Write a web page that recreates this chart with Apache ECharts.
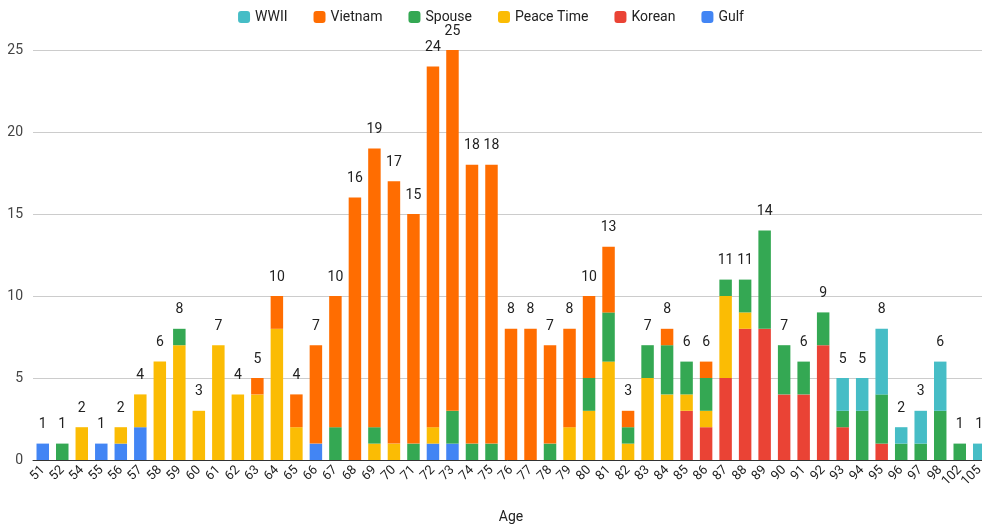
<!DOCTYPE html>
<html>
<head>
<meta charset="utf-8">
<script src="https://cdn.jsdelivr.net/npm/echarts@6/dist/echarts.min.js"></script>
<style>
  html, body { margin: 0; padding: 0; background: #fff; }
  #chart { width: 982px; height: 525px; }
</style>
</head>
<body>
<div id="chart"></div>
<script>
// ages on the x axis
var ages = ['51','52','54','55','56','57','58','59','60','61','62','63','64','65','66','67','68','69','70','71','72','73','74','75','76','77','78','79','80','81','82','83','84','85','86','87','88','89','90','91','92','93','94','95','96','97','98','102','105'];

// counts per group, one value per age
var gulf     = [1,0,0,1,1,2,0,0,0,0,0,0,0,0,1,0,0,0,0,0,1,1,0,0,0,0,0,0,0,0,0,0,0,0,0,0,0,0,0,0,0,0,0,0,0,0,0,0,0];
var korean   = [0,0,0,0,0,0,0,0,0,0,0,0,0,0,0,0,0,0,0,0,0,0,0,0,0,0,0,0,0,0,0,0,0,3,2,5,8,8,4,4,7,2,0,1,0,0,0,0,0];
var peace    = [0,0,2,0,1,2,6,7,3,7,4,4,8,2,0,0,0,1,1,0,1,0,0,0,0,0,0,2,3,6,1,5,4,1,1,5,1,0,0,0,0,0,0,0,0,0,0,0,0];
var spouse   = [0,1,0,0,0,0,0,1,0,0,0,0,0,0,0,2,0,1,0,1,0,2,1,1,0,0,1,0,2,3,1,2,3,2,2,1,2,6,3,2,2,1,3,3,1,1,3,1,0];
var vietnam  = [0,0,0,0,0,0,0,0,0,0,0,1,2,2,6,8,16,17,16,14,22,22,17,17,8,8,6,6,5,4,1,0,1,0,1,0,0,0,0,0,0,0,0,0,0,0,0,0,0];
var wwii     = [0,0,0,0,0,0,0,0,0,0,0,0,0,0,0,0,0,0,0,0,0,0,0,0,0,0,0,0,0,0,0,0,0,0,0,0,0,0,0,0,0,2,2,4,1,2,3,0,1];

var yTicks = [0, 5, 10, 15, 20, 25];

// totals for the labels on top of each bar
var totals = ages.map(function (a, i) {
  return gulf[i] + korean[i] + peace[i] + spouse[i] + vietnam[i] + wwii[i];
});

function seriesOf(name, data, color) {
  return {
    name: name,
    type: 'bar',
    stack: 'all',
    data: data.map(function (v) { return v === 0 ? null : v; }),
    barCategoryGap: '36%',
    itemStyle: { color: color },
    emphasis: { disabled: true }
  };
}

var myChart = echarts.init(document.getElementById('chart'));
var option = {
  animation: false,
  textStyle: { fontFamily: 'Roboto, Arial, sans-serif' },
  legend: {
    top: 5,
    left: 'center',
    data: ['WWII', 'Vietnam', 'Spouse', 'Peace Time', 'Korean', 'Gulf'],
    itemWidth: 12,
    itemHeight: 12,
    itemGap: 26,
    icon: 'roundRect',
    textStyle: { color: '#222', fontSize: 14 }
  },
  grid: { left: 33, top: 50, width: 956, bottom: 65, outerBoundsMode: 'none' },
  xAxis: {
    type: 'category',
    data: ages,
    name: 'Age',
    nameLocation: 'middle',
    nameGap: 50,
    nameTextStyle: { color: '#222', fontSize: 14 },
    axisTick: { show: false },
    axisLine: { lineStyle: { color: '#333' } },
    axisLabel: { rotate: 45, color: '#222', fontSize: 13, interval: 0, margin: 8 }
  },
  yAxis: {
    type: 'value',
    min: yTicks[0],
    max: yTicks[yTicks.length - 1],
    interval: 5,
    axisLabel: { color: '#444', fontSize: 14, margin: 10 },
    splitLine: { lineStyle: { color: '#ccc' } },
    axisLine: { show: false },
    axisTick: { show: false }
  },
  series: [
    seriesOf('Gulf', gulf, '#4285F4'),
    seriesOf('Korean', korean, '#EA4335'),
    seriesOf('Peace Time', peace, '#FBBC04'),
    seriesOf('Spouse', spouse, '#34A853'),
    seriesOf('Vietnam', vietnam, '#FF6D01'),
    seriesOf('WWII', wwii, '#46BDC6'),
    {
      name: 'total',
      type: 'bar',
      stack: 'all',
      data: totals.map(function () { return 0; }),
      itemStyle: { color: 'transparent' },
      label: {
        show: true,
        position: 'top',
        distance: 12,
        color: '#222',
        fontSize: 14,
        formatter: function (p) { return totals[p.dataIndex]; }
      },
      emphasis: { disabled: true }
    }
  ]
};
myChart.setOption(option);
</script>
</body>
</html>
